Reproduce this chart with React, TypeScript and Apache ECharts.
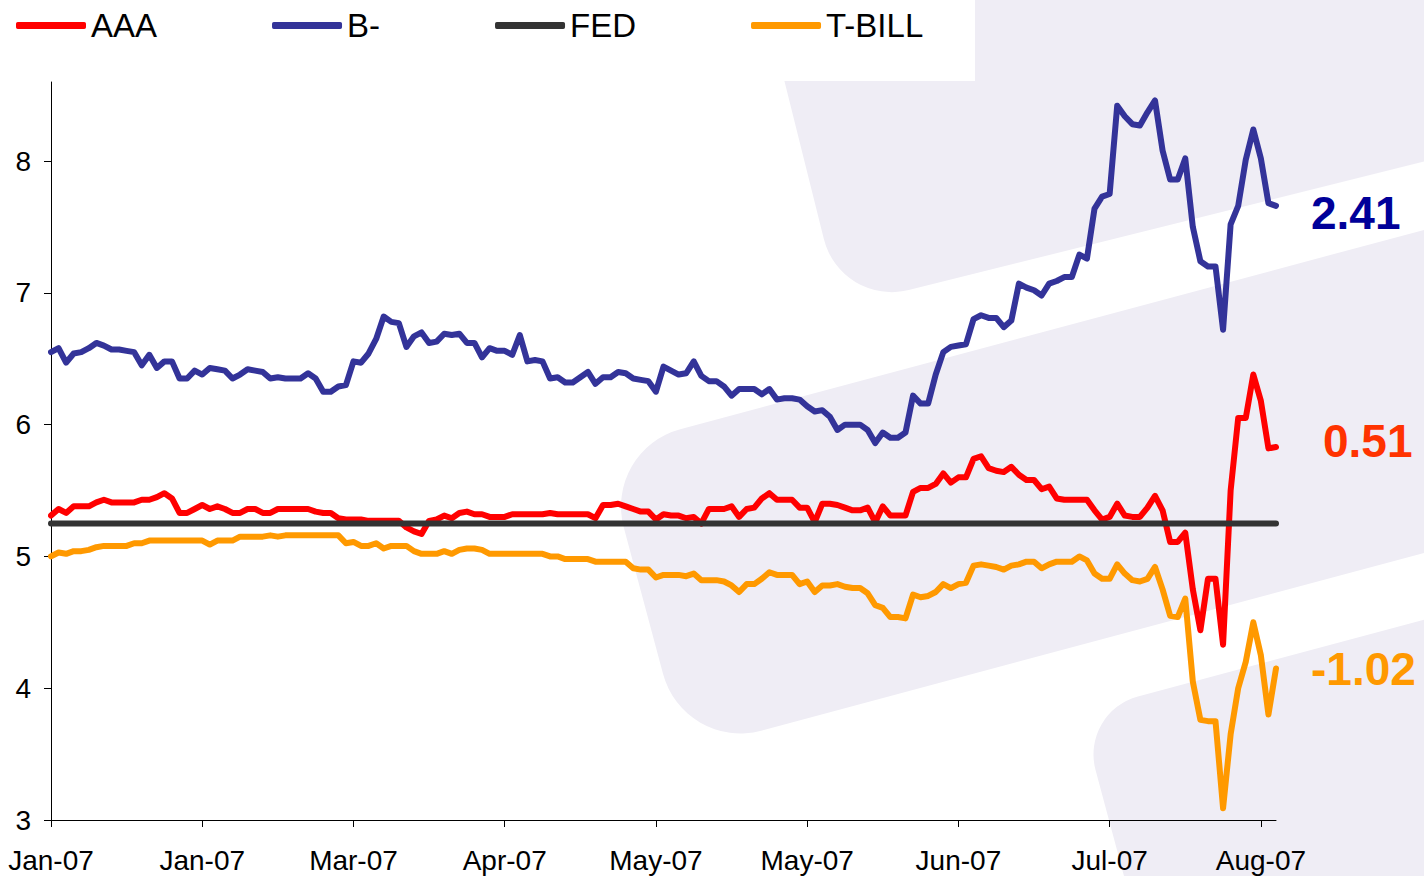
import React, { useEffect, useRef } from "react";
import * as echarts from "echarts";

const seriesNames = ["AAA", "B-", "FED", "T-BILL"];
const seriesColors = ["#ff0000", "#333399", "#333333", "#ff9900"];

const aaa = [
  5.31, 5.36, 5.33, 5.38, 5.38, 5.38, 5.41, 5.43, 5.41, 5.41,
  5.41, 5.41, 5.43, 5.43, 5.45, 5.48, 5.44, 5.33, 5.33, 5.36,
  5.39, 5.36, 5.38, 5.36, 5.33, 5.33, 5.36, 5.36, 5.33, 5.33,
  5.36, 5.36, 5.36, 5.36, 5.36, 5.34, 5.33, 5.33, 5.29, 5.28,
  5.28, 5.28, 5.27, 5.27, 5.27, 5.27, 5.27, 5.22, 5.19, 5.17,
  5.27, 5.28, 5.31, 5.29, 5.33, 5.34, 5.32, 5.32, 5.30, 5.30,
  5.30, 5.32, 5.32, 5.32, 5.32, 5.32, 5.33, 5.32, 5.32, 5.32,
  5.32, 5.32, 5.29, 5.39, 5.39, 5.40, 5.38, 5.36, 5.34, 5.34,
  5.28, 5.32, 5.31, 5.31, 5.29, 5.30, 5.25, 5.36, 5.36, 5.36,
  5.38, 5.30, 5.36, 5.37, 5.44, 5.48, 5.43, 5.43, 5.43, 5.37,
  5.37, 5.26, 5.40, 5.40, 5.39, 5.37, 5.35, 5.35, 5.37, 5.26,
  5.38, 5.31, 5.31, 5.31, 5.49, 5.52, 5.52, 5.55, 5.63, 5.56,
  5.60, 5.60, 5.74, 5.76, 5.67, 5.65, 5.64, 5.68, 5.62, 5.58,
  5.58, 5.51, 5.53, 5.44, 5.43, 5.43, 5.43, 5.43, 5.35, 5.28,
  5.30, 5.40, 5.31, 5.30, 5.30, 5.37, 5.46, 5.35, 5.11, 5.11,
  5.18, 4.75, 4.44, 4.83, 4.83, 4.33, 5.50, 6.05, 6.05, 6.38,
  6.18, 5.82, 5.83,
];

const bMinus = [
  6.55, 6.58, 6.47, 6.54, 6.55, 6.58, 6.62, 6.60, 6.57, 6.57,
  6.56, 6.55, 6.45, 6.53, 6.43, 6.48, 6.48, 6.35, 6.35, 6.41,
  6.38, 6.43, 6.42, 6.41, 6.35, 6.38, 6.42, 6.41, 6.40, 6.35,
  6.36, 6.35, 6.35, 6.35, 6.39, 6.35, 6.25, 6.25, 6.29, 6.30,
  6.48, 6.47, 6.54, 6.65, 6.82, 6.78, 6.77, 6.59, 6.67, 6.70,
  6.62, 6.63, 6.69, 6.68, 6.69, 6.62, 6.62, 6.51, 6.58, 6.56,
  6.56, 6.53, 6.68, 6.48, 6.49, 6.48, 6.35, 6.36, 6.32, 6.32,
  6.36, 6.40, 6.31, 6.36, 6.36, 6.40, 6.39, 6.35, 6.34, 6.33,
  6.25, 6.44, 6.41, 6.38, 6.39, 6.48, 6.37, 6.33, 6.33, 6.29,
  6.22, 6.27, 6.27, 6.27, 6.23, 6.27, 6.19, 6.20, 6.20, 6.19,
  6.14, 6.10, 6.11, 6.06, 5.96, 6.00, 6.00, 6.00, 5.96, 5.86,
  5.94, 5.90, 5.90, 5.94, 6.22, 6.16, 6.16, 6.38, 6.55, 6.59,
  6.60, 6.61, 6.80, 6.83, 6.81, 6.81, 6.74, 6.79, 7.07, 7.04,
  7.02, 6.98, 7.07, 7.09, 7.12, 7.12, 7.29, 7.26, 7.64, 7.73,
  7.75, 8.42, 8.34, 8.28, 8.27, 8.37, 8.46, 8.08, 7.86, 7.86,
  8.02, 7.50, 7.24, 7.20, 7.20, 6.72, 7.52, 7.66, 8.01, 8.24,
  8.02, 7.68, 7.66,
];

const tBill = [
  5.00, 5.03, 5.02, 5.04, 5.04, 5.05, 5.07, 5.08, 5.08, 5.08,
  5.08, 5.10, 5.10, 5.12, 5.12, 5.12, 5.12, 5.12, 5.12, 5.12,
  5.12, 5.09, 5.12, 5.12, 5.12, 5.15, 5.15, 5.15, 5.15, 5.16,
  5.15, 5.16, 5.16, 5.16, 5.16, 5.16, 5.16, 5.16, 5.16, 5.10,
  5.11, 5.08, 5.08, 5.10, 5.06, 5.08, 5.08, 5.08, 5.04, 5.02,
  5.02, 5.02, 5.04, 5.02, 5.05, 5.06, 5.06, 5.05, 5.02, 5.02,
  5.02, 5.02, 5.02, 5.02, 5.02, 5.02, 5.00, 5.00, 4.98, 4.98,
  4.98, 4.98, 4.96, 4.96, 4.96, 4.96, 4.96, 4.91, 4.90, 4.90,
  4.84, 4.86, 4.86, 4.86, 4.85, 4.87, 4.82, 4.82, 4.82, 4.81,
  4.78, 4.73, 4.79, 4.79, 4.83, 4.88, 4.86, 4.86, 4.86, 4.79,
  4.81, 4.73, 4.78, 4.78, 4.79, 4.77, 4.76, 4.76, 4.72, 4.63,
  4.61, 4.54, 4.54, 4.53, 4.71, 4.69, 4.70, 4.73, 4.79, 4.76,
  4.79, 4.80, 4.93, 4.94, 4.93, 4.92, 4.90, 4.93, 4.94, 4.96,
  4.96, 4.91, 4.94, 4.96, 4.96, 4.96, 5.00, 4.97, 4.87, 4.83,
  4.83, 4.94, 4.87, 4.82, 4.81, 4.83, 4.92, 4.75, 4.55, 4.54,
  4.68, 4.05, 3.76, 3.75, 3.75, 3.09, 3.65, 4.00, 4.20, 4.50,
  4.25, 3.80, 4.15,
];

const fedRate = 5.25;

// one category per trading day
const days = aaa.map((_, i) => String(i));
const tickEvery = 20;
const tickLabels = [
  "Jan-07", "Jan-07", "Mar-07", "Apr-07", "May-07",
  "May-07", "Jun-07", "Jul-07", "Aug-07",
];
const yTicks = [3, 4, 5, 6, 7, 8];

const spreadLabels = ["2.41", "0.51", "-1.02"];
const spreadColors = ["#000099", "#ff3300", "#ff9900"];

export default function App() {
  const ref = useRef<HTMLDivElement>(null);

  useEffect(() => {
    const chart = echarts.init(ref.current!, null, { renderer: "svg" });
    const font = "Liberation Sans, Arial, Helvetica, sans-serif";
    const wm = "#efedf5";

    const band = (x: number, y: number, w: number, h: number, deg: number, r: number) => ({
      type: "rect",
      x,
      y,
      rotation: (deg * Math.PI) / 180,
      shape: { x: 0, y: 0, width: w, height: h, r },
      style: { fill: wm },
      z: -10,
      silent: true,
    });

    const spreadPos = [
      { x: 1311, y: 213 },
      { x: 1323, y: 441 },
      { x: 1311, y: 669 },
    ];

    const lineSeries = (name: string, color: string, data: any[]) => ({
      name,
      type: "line",
      data,
      showSymbol: false,
      symbol: "none",
      color,
      lineStyle: { color, width: 6, cap: "round", join: "round" },
      emphasis: { disabled: true },
    });

    chart.setOption({
      animation: false,
      backgroundColor: "#ffffff",
      grid: { left: 51, right: 148, top: 82, bottom: 56 },
      legend: {
        left: 16,
        top: 9,
        padding: 0,
        itemWidth: 70,
        itemHeight: 7,
        itemGap: 115,
        data: seriesNames.map((name) => ({ name, icon: "roundRect" })),
        textStyle: { fontSize: 33, color: "#000", fontFamily: font },
      },
      xAxis: {
        type: "category",
        data: days,
        boundaryGap: false,
        axisLine: { lineStyle: { color: "#000", width: 1 } },
        axisTick: { interval: tickEvery - 1, length: 7, lineStyle: { color: "#000" } },
        axisLabel: {
          interval: tickEvery - 1,
          formatter: (_v: string, idx: number) => tickLabels[idx / tickEvery] ?? "",
          fontSize: 28,
          color: "#000",
          fontFamily: font,
          margin: 26,
        },
        splitLine: { show: false },
      },
      yAxis: {
        type: "value",
        min: 3,
        max: 8.6,
        interval: 1,
        axisLine: { show: true, lineStyle: { color: "#000", width: 1 } },
        axisTick: { show: true, length: 7, customValues: yTicks, lineStyle: { color: "#000" } },
        axisLabel: {
          customValues: yTicks,
          fontSize: 28,
          color: "#000",
          fontFamily: font,
          margin: 20,
        },
        splitLine: { show: false },
      },
      series: [
        lineSeries(seriesNames[0], seriesColors[0], aaa),
        lineSeries(seriesNames[1], seriesColors[1], bMinus),
        lineSeries(seriesNames[2], seriesColors[2], [
          [days[0], fedRate],
          [days[days.length - 1], fedRate],
        ]),
        lineSeries(seriesNames[3], seriesColors[3], tBill),
      ],
      graphic: [
        band(744, -81, 900, 400, 14, 70),
        band(603, 450, 1000, 312, 15, 80),
        band(1080, 712, 600, 400, 15, 60),
        {
          type: "rect",
          x: 0,
          y: 0,
          shape: { x: 0, y: 0, width: 975, height: 81 },
          style: { fill: "#ffffff" },
          z: -5,
          silent: true,
        },
        ...spreadLabels.map((t, i) => ({
          type: "text",
          x: spreadPos[i].x,
          y: spreadPos[i].y,
          z: 50,
          style: {
            text: t,
            fill: spreadColors[i],
            fontSize: 46,
            fontWeight: "bold",
            fontFamily: font,
            align: "left",
            verticalAlign: "middle",
          },
        })),
      ],
    });

    return () => chart.dispose();
  }, []);

  return (
    <div
      ref={ref}
      style={{ position: "fixed", left: 0, top: 0, width: 1424, height: 876 }}
    />
  );
}
